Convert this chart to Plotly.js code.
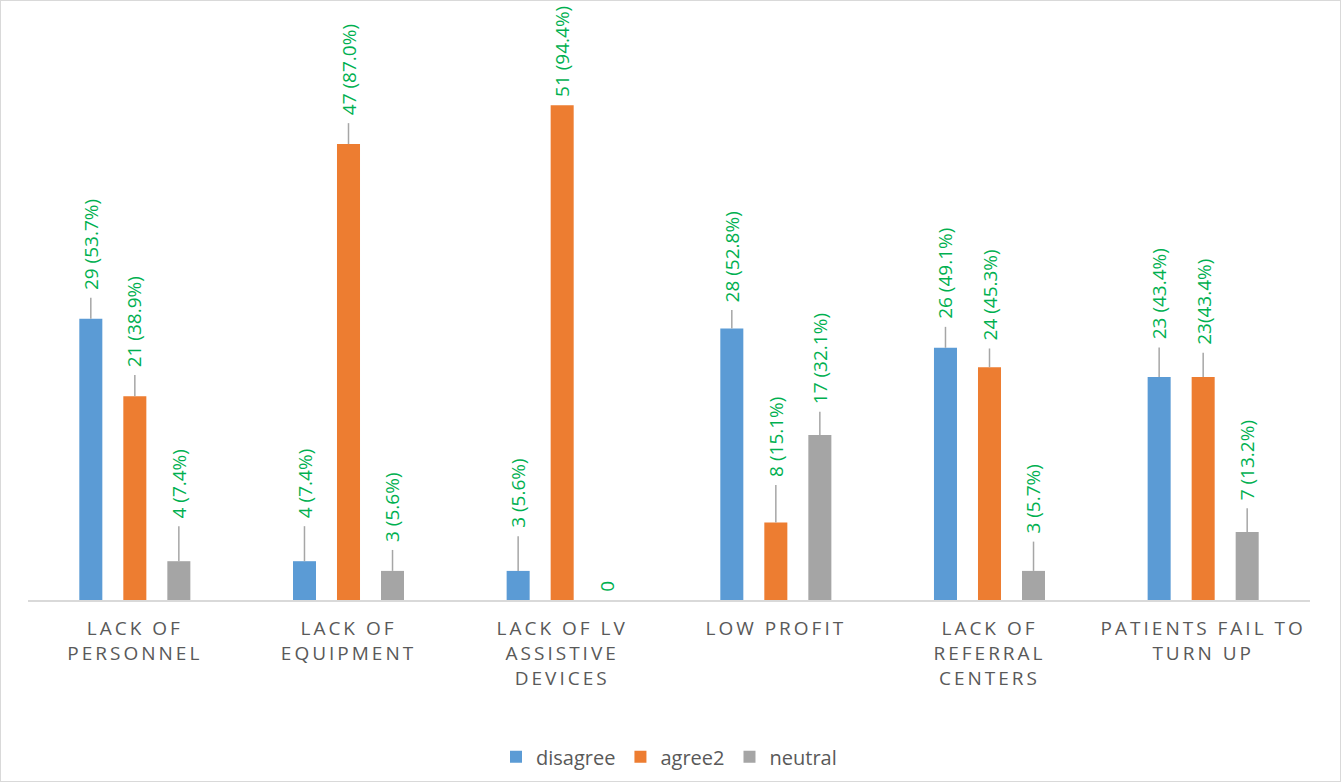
<!DOCTYPE html>
<html><head><meta charset="utf-8">
<script src="https://cdn.plot.ly/plotly-3.0.1.min.js"></script>
<style>
html,body{margin:0;padding:0;background:#fff;}
#chart{width:1339px;height:780px;border:1px solid #d9d9d9;}
.xtick text{letter-spacing:3px;}
</style></head><body><div id="chart"></div>
<script>
const categories = ["Lack of personnel","Lack of equipment","Lack of LV assistive devices","Low profit","Lack of referral centers","Patients fail to turn up"];
const tickLabels = ["LACK OF<br>PERSONNEL","LACK OF<br>EQUIPMENT","LACK OF LV<br>ASSISTIVE<br>DEVICES","LOW PROFIT","LACK OF<br>REFERRAL<br>CENTERS","PATIENTS FAIL TO<br>TURN UP"];
const seriesNames = ["disagree","agree2","neutral"];
const disagree = [29, 4, 3, 28, 26, 23];
const agree2   = [21, 47, 51, 8, 24, 23];
const neutral  = [4, 3, 0, 17, 3, 7];
const disagreeLabels = ["29 (53.7%)","4 (7.4%)","3 (5.6%)","28 (52.8%)","26 (49.1%)","23 (43.4%)"];
const agree2Labels   = ["21 (38.9%)","47 (87.0%)","51 (94.4%)","8 (15.1%)","24 (45.3%)","23(43.4%)"];
const neutralLabels  = ["4 (7.4%)","3 (5.6%)","0","17 (32.1%)","3 (5.7%)","7 (13.2%)"];
// label leader-line lengths (data units)
const disagreeLeader = [2.16, 3.61, 3.58, 1.89, 2.16, 3.02];
const agree2Leader   = [2.2, 2.16, 0, 3.85, 1.93, 2.5];
const neutralLeader  = [3.61, 2.16, 0, 2.4, 3.02, 2.47];

const colors = ["#5B9BD5","#ED7D31","#A5A5A5"];
const values = [disagree, agree2, neutral];
const labels = [disagreeLabels, agree2Labels, neutralLabels];
const leaders = [disagreeLeader, agree2Leader, neutralLeader];

const traces = values.map((v, i) => ({
  type: 'bar', name: seriesNames[i], x: categories, y: v,
  marker: {color: colors[i]},
  error_y: {type:'data', symmetric:false, array: leaders[i], arrayminus: v.map(() => 0),
            color:'#A6A6A6', thickness:1.5, width:0},
  hoverinfo: 'none'
}));

const annotations = [];
values.forEach((v, i) => {
  v.forEach((val, j) => {
    annotations.push({
      x: categories[j], y: val + leaders[i][j], xref:'x', yref:'y',
      text: labels[i][j], showarrow:false, textangle:-90,
      xanchor:'center', yanchor:'bottom', xshift:(i-1)*44, yshift:6,
      font:{family:'Open Sans, sans-serif', size:19, color:'#00B050'}
    });
  });
});

const layout = {
  width:1339, height:780,
  margin:{l:27, r:30, t:17, b:181, autoexpand:false},
  paper_bgcolor:'#fff', plot_bgcolor:'#fff',
  barmode:'group', bargap:0.382, bargroupgap:0.477,
  showlegend:true,
  legend:{orientation:'h', x:0.5, xanchor:'center', yref:'container', y:0.031, yanchor:'middle',
          font:{family:'Open Sans, sans-serif', size:20, color:'#595959'}, itemclick:false},
  xaxis:{type:'category', tickvals:categories, ticktext:tickLabels, ticks:'',
         showline:true, linecolor:'#D9D9D9', linewidth:1.5, showgrid:false, zeroline:false,
         ticklabelstandoff:11,
         tickfont:{family:'Open Sans, sans-serif', size:19, color:'#595959'}, fixedrange:true},
  yaxis:{range:[0,60], visible:false, showgrid:false, zeroline:false, fixedrange:true},
  annotations: annotations,
  hovermode:false
};
Plotly.newPlot('chart', traces, layout, {displayModeBar:false, staticPlot:true});
</script></body></html>
